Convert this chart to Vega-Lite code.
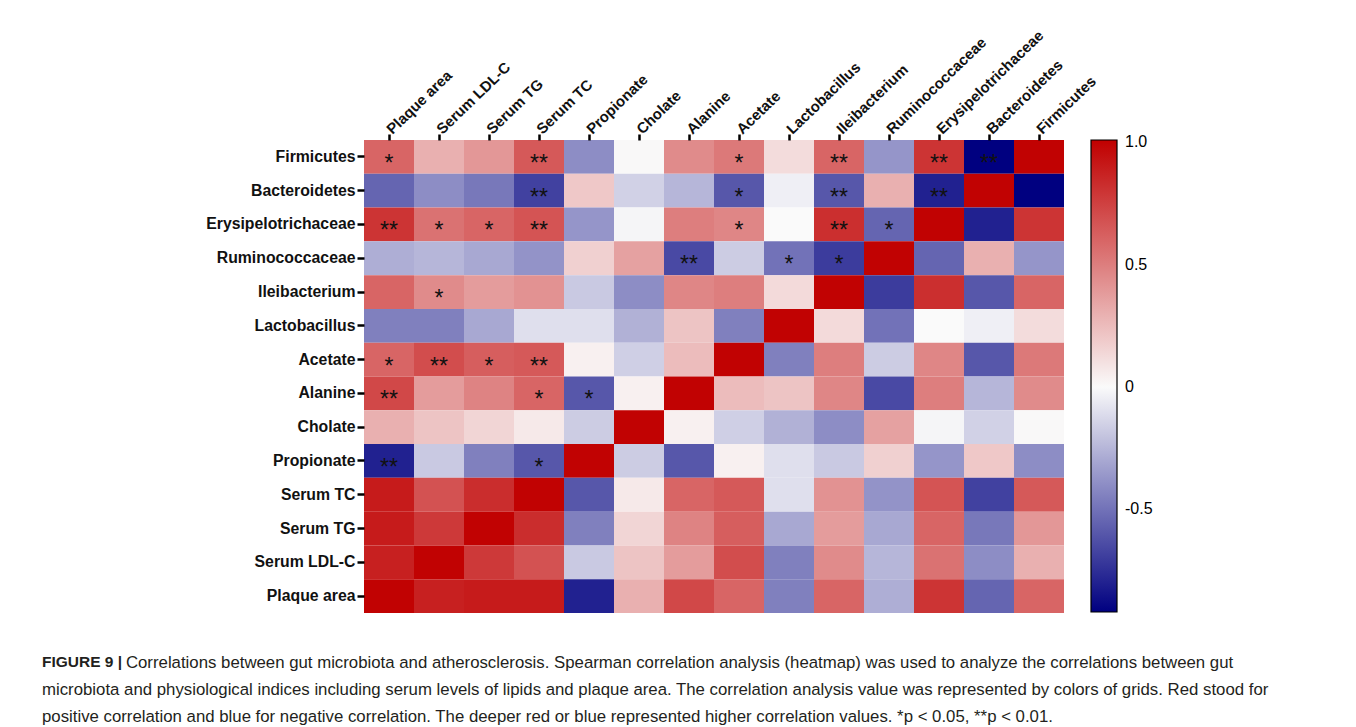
{
  "$schema": "https://vega.github.io/schema/vega-lite/v6.json",
  "width": 700,
  "height": 473,
  "autosize": {"type": "none"},
  "padding": {"left": 364, "top": 140, "right": 292, "bottom": 114},
  "background": "white",
  "title": {
    "text": "FIGURE 9 |",
    "subtitle": [
      "\u200b\u00a0\u00a0\u00a0\u00a0\u00a0\u00a0\u00a0\u00a0\u00a0\u00a0\u00a0\u00a0\u00a0\u00a0\u00a0\u00a0\u00a0\u00a0Correlations between gut microbiota and atherosclerosis. Spearman correlation analysis (heatmap) was used to analyze the correlations between gut",
      "microbiota and physiological indices including serum levels of lipids and plaque area. The correlation analysis value was represented by colors of grids. Red stood for",
      "positive correlation and blue for negative correlation. The deeper red or blue represented higher correlation values. *p < 0.05, **p < 0.01."
    ],
    "orient": "bottom",
    "anchor": "start",
    "frame": "group",
    "dx": -322,
    "offset": 42,
    "font": "Liberation Sans",
    "fontSize": 15.5,
    "fontWeight": "bold",
    "color": "#231f20",
    "subtitleFont": "Liberation Sans",
    "subtitleFontSize": 16.8,
    "subtitleFontWeight": "normal",
    "subtitleColor": "#231f20",
    "subtitleLineHeight": 27,
    "subtitlePadding": -16
  },
  "data": {"values": [
    {"y":"Firmicutes","x":"Plaque area","r":0.6,"p":"*"},
    {"y":"Firmicutes","x":"Serum LDL-C","r":0.3},
    {"y":"Firmicutes","x":"Serum TG","r":0.4},
    {"y":"Firmicutes","x":"Serum TC","r":0.65,"p":"**"},
    {"y":"Firmicutes","x":"Propionate","r":-0.4},
    {"y":"Firmicutes","x":"Cholate","r":0.01},
    {"y":"Firmicutes","x":"Alanine","r":0.45},
    {"y":"Firmicutes","x":"Acetate","r":0.52,"p":"*"},
    {"y":"Firmicutes","x":"Lactobacillus","r":0.12},
    {"y":"Firmicutes","x":"Ileibacterium","r":0.6,"p":"**"},
    {"y":"Firmicutes","x":"Ruminococcaceae","r":-0.37},
    {"y":"Firmicutes","x":"Erysipelotrichaceae","r":0.8,"p":"**"},
    {"y":"Firmicutes","x":"Bacteroidetes","r":-0.92,"p":"**"},
    {"y":"Firmicutes","x":"Firmicutes","r":1},

    {"y":"Bacteroidetes","x":"Plaque area","r":-0.55},
    {"y":"Bacteroidetes","x":"Serum LDL-C","r":-0.4},
    {"y":"Bacteroidetes","x":"Serum TG","r":-0.48},
    {"y":"Bacteroidetes","x":"Serum TC","r":-0.68,"p":"**"},
    {"y":"Bacteroidetes","x":"Propionate","r":0.2},
    {"y":"Bacteroidetes","x":"Cholate","r":-0.15},
    {"y":"Bacteroidetes","x":"Alanine","r":-0.25},
    {"y":"Bacteroidetes","x":"Acetate","r":-0.6,"p":"*"},
    {"y":"Bacteroidetes","x":"Lactobacillus","r":-0.04},
    {"y":"Bacteroidetes","x":"Ileibacterium","r":-0.6,"p":"**"},
    {"y":"Bacteroidetes","x":"Ruminococcaceae","r":0.3},
    {"y":"Bacteroidetes","x":"Erysipelotrichaceae","r":-0.8,"p":"**"},
    {"y":"Bacteroidetes","x":"Bacteroidetes","r":1},
    {"y":"Bacteroidetes","x":"Firmicutes","r":-0.92},

    {"y":"Erysipelotrichaceae","x":"Plaque area","r":0.8,"p":"**"},
    {"y":"Erysipelotrichaceae","x":"Serum LDL-C","r":0.55,"p":"*"},
    {"y":"Erysipelotrichaceae","x":"Serum TG","r":0.6,"p":"*"},
    {"y":"Erysipelotrichaceae","x":"Serum TC","r":0.67,"p":"**"},
    {"y":"Erysipelotrichaceae","x":"Propionate","r":-0.37},
    {"y":"Erysipelotrichaceae","x":"Cholate","r":-0.02},
    {"y":"Erysipelotrichaceae","x":"Alanine","r":0.5},
    {"y":"Erysipelotrichaceae","x":"Acetate","r":0.47,"p":"*"},
    {"y":"Erysipelotrichaceae","x":"Lactobacillus","r":0.0},
    {"y":"Erysipelotrichaceae","x":"Ileibacterium","r":0.82,"p":"**"},
    {"y":"Erysipelotrichaceae","x":"Ruminococcaceae","r":-0.55,"p":"*"},
    {"y":"Erysipelotrichaceae","x":"Erysipelotrichaceae","r":1},
    {"y":"Erysipelotrichaceae","x":"Bacteroidetes","r":-0.8},
    {"y":"Erysipelotrichaceae","x":"Firmicutes","r":0.8},

    {"y":"Ruminococcaceae","x":"Plaque area","r":-0.28},
    {"y":"Ruminococcaceae","x":"Serum LDL-C","r":-0.25},
    {"y":"Ruminococcaceae","x":"Serum TG","r":-0.3},
    {"y":"Ruminococcaceae","x":"Serum TC","r":-0.38},
    {"y":"Ruminococcaceae","x":"Propionate","r":0.17},
    {"y":"Ruminococcaceae","x":"Cholate","r":0.36},
    {"y":"Ruminococcaceae","x":"Alanine","r":-0.65,"p":"**"},
    {"y":"Ruminococcaceae","x":"Acetate","r":-0.17},
    {"y":"Ruminococcaceae","x":"Lactobacillus","r":-0.5,"p":"*"},
    {"y":"Ruminococcaceae","x":"Ileibacterium","r":-0.7,"p":"*"},
    {"y":"Ruminococcaceae","x":"Ruminococcaceae","r":1},
    {"y":"Ruminococcaceae","x":"Erysipelotrichaceae","r":-0.55},
    {"y":"Ruminococcaceae","x":"Bacteroidetes","r":0.3},
    {"y":"Ruminococcaceae","x":"Firmicutes","r":-0.37},

    {"y":"Ileibacterium","x":"Plaque area","r":0.6},
    {"y":"Ileibacterium","x":"Serum LDL-C","r":0.45,"p":"*"},
    {"y":"Ileibacterium","x":"Serum TG","r":0.38},
    {"y":"Ileibacterium","x":"Serum TC","r":0.42},
    {"y":"Ileibacterium","x":"Propionate","r":-0.18},
    {"y":"Ileibacterium","x":"Cholate","r":-0.4},
    {"y":"Ileibacterium","x":"Alanine","r":0.47},
    {"y":"Ileibacterium","x":"Acetate","r":0.5},
    {"y":"Ileibacterium","x":"Lactobacillus","r":0.13},
    {"y":"Ileibacterium","x":"Ileibacterium","r":1},
    {"y":"Ileibacterium","x":"Ruminococcaceae","r":-0.7},
    {"y":"Ileibacterium","x":"Erysipelotrichaceae","r":0.82},
    {"y":"Ileibacterium","x":"Bacteroidetes","r":-0.6},
    {"y":"Ileibacterium","x":"Firmicutes","r":0.6},

    {"y":"Lactobacillus","x":"Plaque area","r":-0.45},
    {"y":"Lactobacillus","x":"Serum LDL-C","r":-0.45},
    {"y":"Lactobacillus","x":"Serum TG","r":-0.3},
    {"y":"Lactobacillus","x":"Serum TC","r":-0.1},
    {"y":"Lactobacillus","x":"Propionate","r":-0.1},
    {"y":"Lactobacillus","x":"Cholate","r":-0.27},
    {"y":"Lactobacillus","x":"Alanine","r":0.22},
    {"y":"Lactobacillus","x":"Acetate","r":-0.45},
    {"y":"Lactobacillus","x":"Lactobacillus","r":1},
    {"y":"Lactobacillus","x":"Ileibacterium","r":0.13},
    {"y":"Lactobacillus","x":"Ruminococcaceae","r":-0.5},
    {"y":"Lactobacillus","x":"Erysipelotrichaceae","r":0.0},
    {"y":"Lactobacillus","x":"Bacteroidetes","r":-0.04},
    {"y":"Lactobacillus","x":"Firmicutes","r":0.12},

    {"y":"Acetate","x":"Plaque area","r":0.6,"p":"*"},
    {"y":"Acetate","x":"Serum LDL-C","r":0.7,"p":"**"},
    {"y":"Acetate","x":"Serum TG","r":0.63,"p":"*"},
    {"y":"Acetate","x":"Serum TC","r":0.65,"p":"**"},
    {"y":"Acetate","x":"Propionate","r":0.04},
    {"y":"Acetate","x":"Cholate","r":-0.16},
    {"y":"Acetate","x":"Alanine","r":0.25},
    {"y":"Acetate","x":"Acetate","r":1},
    {"y":"Acetate","x":"Lactobacillus","r":-0.45},
    {"y":"Acetate","x":"Ileibacterium","r":0.5},
    {"y":"Acetate","x":"Ruminococcaceae","r":-0.17},
    {"y":"Acetate","x":"Erysipelotrichaceae","r":0.47},
    {"y":"Acetate","x":"Bacteroidetes","r":-0.6},
    {"y":"Acetate","x":"Firmicutes","r":0.52},

    {"y":"Alanine","x":"Plaque area","r":0.72,"p":"**"},
    {"y":"Alanine","x":"Serum LDL-C","r":0.38},
    {"y":"Alanine","x":"Serum TG","r":0.48},
    {"y":"Alanine","x":"Serum TC","r":0.6,"p":"*"},
    {"y":"Alanine","x":"Propionate","r":-0.6,"p":"*"},
    {"y":"Alanine","x":"Cholate","r":0.04},
    {"y":"Alanine","x":"Alanine","r":1},
    {"y":"Alanine","x":"Acetate","r":0.25},
    {"y":"Alanine","x":"Lactobacillus","r":0.22},
    {"y":"Alanine","x":"Ileibacterium","r":0.47},
    {"y":"Alanine","x":"Ruminococcaceae","r":-0.65},
    {"y":"Alanine","x":"Erysipelotrichaceae","r":0.5},
    {"y":"Alanine","x":"Bacteroidetes","r":-0.25},
    {"y":"Alanine","x":"Firmicutes","r":0.45},

    {"y":"Cholate","x":"Plaque area","r":0.3},
    {"y":"Cholate","x":"Serum LDL-C","r":0.22},
    {"y":"Cholate","x":"Serum TG","r":0.15},
    {"y":"Cholate","x":"Serum TC","r":0.07},
    {"y":"Cholate","x":"Propionate","r":-0.17},
    {"y":"Cholate","x":"Cholate","r":1},
    {"y":"Cholate","x":"Alanine","r":0.04},
    {"y":"Cholate","x":"Acetate","r":-0.16},
    {"y":"Cholate","x":"Lactobacillus","r":-0.27},
    {"y":"Cholate","x":"Ileibacterium","r":-0.4},
    {"y":"Cholate","x":"Ruminococcaceae","r":0.36},
    {"y":"Cholate","x":"Erysipelotrichaceae","r":-0.02},
    {"y":"Cholate","x":"Bacteroidetes","r":-0.15},
    {"y":"Cholate","x":"Firmicutes","r":0.01},

    {"y":"Propionate","x":"Plaque area","r":-0.8,"p":"**"},
    {"y":"Propionate","x":"Serum LDL-C","r":-0.18},
    {"y":"Propionate","x":"Serum TG","r":-0.45},
    {"y":"Propionate","x":"Serum TC","r":-0.6,"p":"*"},
    {"y":"Propionate","x":"Propionate","r":1},
    {"y":"Propionate","x":"Cholate","r":-0.17},
    {"y":"Propionate","x":"Alanine","r":-0.6},
    {"y":"Propionate","x":"Acetate","r":0.04},
    {"y":"Propionate","x":"Lactobacillus","r":-0.1},
    {"y":"Propionate","x":"Ileibacterium","r":-0.18},
    {"y":"Propionate","x":"Ruminococcaceae","r":0.17},
    {"y":"Propionate","x":"Erysipelotrichaceae","r":-0.37},
    {"y":"Propionate","x":"Bacteroidetes","r":0.2},
    {"y":"Propionate","x":"Firmicutes","r":-0.4},

    {"y":"Serum TC","x":"Plaque area","r":0.9},
    {"y":"Serum TC","x":"Serum LDL-C","r":0.68},
    {"y":"Serum TC","x":"Serum TG","r":0.83},
    {"y":"Serum TC","x":"Serum TC","r":1},
    {"y":"Serum TC","x":"Propionate","r":-0.6},
    {"y":"Serum TC","x":"Cholate","r":0.07},
    {"y":"Serum TC","x":"Alanine","r":0.6},
    {"y":"Serum TC","x":"Acetate","r":0.65},
    {"y":"Serum TC","x":"Lactobacillus","r":-0.1},
    {"y":"Serum TC","x":"Ileibacterium","r":0.42},
    {"y":"Serum TC","x":"Ruminococcaceae","r":-0.38},
    {"y":"Serum TC","x":"Erysipelotrichaceae","r":0.67},
    {"y":"Serum TC","x":"Bacteroidetes","r":-0.68},
    {"y":"Serum TC","x":"Firmicutes","r":0.65},

    {"y":"Serum TG","x":"Plaque area","r":0.9},
    {"y":"Serum TG","x":"Serum LDL-C","r":0.78},
    {"y":"Serum TG","x":"Serum TG","r":1},
    {"y":"Serum TG","x":"Serum TC","r":0.83},
    {"y":"Serum TG","x":"Propionate","r":-0.45},
    {"y":"Serum TG","x":"Cholate","r":0.15},
    {"y":"Serum TG","x":"Alanine","r":0.48},
    {"y":"Serum TG","x":"Acetate","r":0.63},
    {"y":"Serum TG","x":"Lactobacillus","r":-0.3},
    {"y":"Serum TG","x":"Ileibacterium","r":0.38},
    {"y":"Serum TG","x":"Ruminococcaceae","r":-0.3},
    {"y":"Serum TG","x":"Erysipelotrichaceae","r":0.6},
    {"y":"Serum TG","x":"Bacteroidetes","r":-0.48},
    {"y":"Serum TG","x":"Firmicutes","r":0.4},

    {"y":"Serum LDL-C","x":"Plaque area","r":0.88},
    {"y":"Serum LDL-C","x":"Serum LDL-C","r":1},
    {"y":"Serum LDL-C","x":"Serum TG","r":0.78},
    {"y":"Serum LDL-C","x":"Serum TC","r":0.68},
    {"y":"Serum LDL-C","x":"Propionate","r":-0.18},
    {"y":"Serum LDL-C","x":"Cholate","r":0.22},
    {"y":"Serum LDL-C","x":"Alanine","r":0.38},
    {"y":"Serum LDL-C","x":"Acetate","r":0.7},
    {"y":"Serum LDL-C","x":"Lactobacillus","r":-0.45},
    {"y":"Serum LDL-C","x":"Ileibacterium","r":0.45},
    {"y":"Serum LDL-C","x":"Ruminococcaceae","r":-0.25},
    {"y":"Serum LDL-C","x":"Erysipelotrichaceae","r":0.55},
    {"y":"Serum LDL-C","x":"Bacteroidetes","r":-0.4},
    {"y":"Serum LDL-C","x":"Firmicutes","r":0.3},

    {"y":"Plaque area","x":"Plaque area","r":1},
    {"y":"Plaque area","x":"Serum LDL-C","r":0.88},
    {"y":"Plaque area","x":"Serum TG","r":0.9},
    {"y":"Plaque area","x":"Serum TC","r":0.9},
    {"y":"Plaque area","x":"Propionate","r":-0.8},
    {"y":"Plaque area","x":"Cholate","r":0.3},
    {"y":"Plaque area","x":"Alanine","r":0.72},
    {"y":"Plaque area","x":"Acetate","r":0.6},
    {"y":"Plaque area","x":"Lactobacillus","r":-0.45},
    {"y":"Plaque area","x":"Ileibacterium","r":0.6},
    {"y":"Plaque area","x":"Ruminococcaceae","r":-0.28},
    {"y":"Plaque area","x":"Erysipelotrichaceae","r":0.8},
    {"y":"Plaque area","x":"Bacteroidetes","r":-0.55},
    {"y":"Plaque area","x":"Firmicutes","r":0.6}
  ]},
  "encoding": {
    "x": {
      "field": "x", "type": "nominal",
      "sort": ["Plaque area","Serum LDL-C","Serum TG","Serum TC","Propionate","Cholate","Alanine","Acetate","Lactobacillus","Ileibacterium","Ruminococcaceae","Erysipelotrichaceae","Bacteroidetes","Firmicutes"],
      "scale": {"paddingInner": 0, "paddingOuter": 0},
      "axis": {
        "orient": "top", "title": null, "domain": false,
        "labelAngle": -44, "labelAlign": "left", "labelBaseline": "middle",
        "labelFont": "Liberation Sans", "labelFontSize": 15, "labelFontWeight": "bold",
        "labelColor": "#111111", "labelPadding": 3,
        "tickColor": "#000000", "tickWidth": 2.5, "tickSize": 6
      }
    },
    "y": {
      "field": "y", "type": "nominal",
      "sort": ["Firmicutes","Bacteroidetes","Erysipelotrichaceae","Ruminococcaceae","Ileibacterium","Lactobacillus","Acetate","Alanine","Cholate","Propionate","Serum TC","Serum TG","Serum LDL-C","Plaque area"],
      "scale": {"paddingInner": 0, "paddingOuter": 0},
      "axis": {
        "title": null, "domain": false,
        "labelFont": "Liberation Sans", "labelFontSize": 15.8, "labelFontWeight": "bold",
        "labelColor": "#111111", "labelPadding": 2,
        "tickColor": "#000000", "tickWidth": 2.5, "tickSize": 7
      }
    }
  },
  "layer": [
    {
      "mark": {"type": "rect"},
      "encoding": {
        "color": {
          "field": "r", "type": "quantitative",
          "scale": {"domain": [-0.92, 0, 1.01], "range": ["#000080", "#fafafa", "#c00000"], "interpolate": "rgb"},
          "legend": {
            "title": null, "orient": "right", "offset": 27,
            "gradientLength": 472, "gradientThickness": 26,
            "gradientStrokeColor": "#000000", "gradientStrokeWidth": 1.2,
            "values": [1, 0.5, 0, -0.5],
            "labelExpr": "datum.value == 0 ? '0' : (datum.value < 0 ? '-' + format(-datum.value, '.1f') : format(datum.value, '.1f'))",
            "labelFont": "Liberation Sans", "labelFontSize": 16, "labelColor": "#000000", "labelOffset": 8,
            "labelBaseline": "middle",
            "padding": 0
          }
        }
      }
    },
    {
      "transform": [{"filter": "datum.p"}],
      "mark": {"type": "text", "font": "Liberation Sans", "fontSize": 23, "dy": 7, "color": "#111111"},
      "encoding": {"text": {"field": "p"}}
    }
  ],
  "config": {"view": {"stroke": null}}
}
